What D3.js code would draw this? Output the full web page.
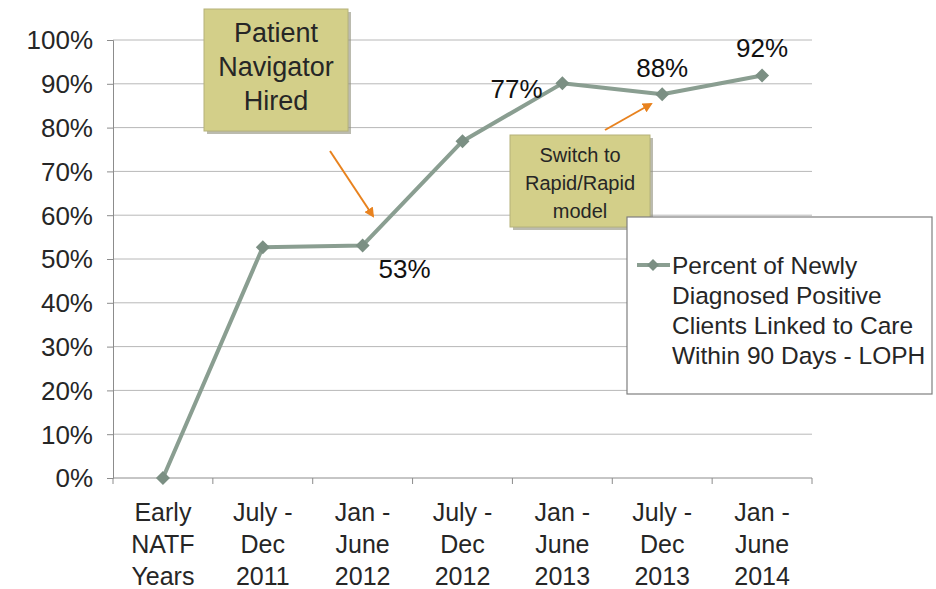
<!DOCTYPE html>
<html><head><meta charset="utf-8">
<script src="https://cdn.jsdelivr.net/npm/d3@7"></script>
<style>body{margin:0;background:#fff}svg{display:block;font-family:"Liberation Sans",Arial,sans-serif}</style>
</head><body><svg id="c" width="936" height="589"></svg>
<script>
const categories = [["Early","NATF","Years"],["July -","Dec","2011"],["Jan -","June","2012"],["July -","Dec","2012"],["Jan -","June","2013"],["July -","Dec","2013"],["Jan -","June","2014"]];
const values = [0, 52.7, 53.1, 76.9, 90.1, 87.6, 91.9];
const pointLabels = [null, null, "53%", "77%", null, "88%", "92%"];
const yTicks = [0,10,20,30,40,50,60,70,80,90,100];
const seriesName = ["Percent of Newly","Diagnosed Positive","Clients Linked to Care","Within 90 Days - LOPH"];

const svg = d3.select("#c");
const x = d3.scaleBand().domain(d3.range(categories.length)).range([113, 812]);
const y = d3.scaleLinear().domain([0,100]).range([478, 40]);

// gridlines
svg.append("g").selectAll("line").data(yTicks.filter(d=>d>0)).join("line")
  .attr("x1",113).attr("x2",812).attr("y1",d=>y(d)).attr("y2",d=>y(d))
  .attr("stroke","#b8b8b8").attr("stroke-width",1);

// y axis
const yAxis = svg.append("g").attr("transform","translate(113,0)")
  .call(d3.axisLeft(y).tickValues(yTicks).tickFormat(d=>d+"%").tickSize(6).tickPadding(14));
yAxis.select(".domain").attr("stroke","#8c8c8c");
yAxis.selectAll(".tick line").attr("stroke","#8c8c8c");
yAxis.selectAll("text").attr("font-size",26).attr("fill","#262626").attr("font-family","Liberation Sans, Arial, sans-serif").attr("dy","0.34em");

// x axis
const xg = svg.append("g").attr("transform","translate(0,478)");
xg.append("line").attr("x1",113).attr("x2",812).attr("stroke","#8c8c8c");
xg.selectAll("line.t").data(d3.range(categories.length+1)).join("line").attr("class","t")
  .attr("x1",i=>113+i*x.step()).attr("x2",i=>113+i*x.step()).attr("y1",0).attr("y2",6).attr("stroke","#8c8c8c");
const xl = xg.selectAll("text").data(categories).join("text")
  .attr("x",(d,i)=>x(i)+x.bandwidth()/2).attr("text-anchor","middle")
  .attr("font-size",25).attr("fill","#262626");
xl.selectAll("tspan").data(d=>d).join("tspan")
  .attr("x",function(){return this.parentNode.getAttribute("x");})
  .attr("y",(d,j)=>43+j*32).text(d=>d);

// line
const cx = i=>x(i)+x.bandwidth()/2;
const diamond = s => `M0,${-s}L${s},0L0,${s}L${-s},0Z`;
svg.append("path").datum(values)
  .attr("d", d3.line().x((d,i)=>cx(i)).y(d=>y(d)))
  .attr("fill","none").attr("stroke","#8a9e91").attr("stroke-width",4).attr("stroke-linejoin","round");
svg.append("g").selectAll("path").data(values).join("path")
  .attr("d", diamond(7))
  .attr("transform",(d,i)=>`translate(${cx(i)},${y(d)})`)
  .attr("fill","#7b8f83");

// point labels
const lblOff = {2:[42,24],3:[54,-52],5:[0,-26],6:[0,-27]};
svg.append("g").selectAll("text").data(values.map((v,i)=>({v,i})).filter(d=>pointLabels[d.i]))
  .join("text")
  .attr("x",d=>cx(d.i)+lblOff[d.i][0]).attr("y",d=>y(d.v)+lblOff[d.i][1]+9)
  .attr("text-anchor","middle").attr("font-size",26).attr("fill","#111")
  .text(d=>pointLabels[d.i]);

// arrows
const defs = svg.append("defs");
defs.append("marker").attr("id","ah").attr("viewBox","0 0 10 10").attr("refX",8).attr("refY",5)
  .attr("markerWidth",5).attr("markerHeight",5).attr("orient","auto")
  .append("path").attr("d","M0,0L10,5L0,10z").attr("fill","#e8821e");
svg.append("line").attr("x1",330).attr("y1",151).attr("x2",373).attr("y2",216)
  .attr("stroke","#e8821e").attr("stroke-width",2).attr("marker-end","url(#ah)");
svg.append("line").attr("x1",605).attr("y1",130).attr("x2",651).attr("y2",104)
  .attr("stroke","#e8821e").attr("stroke-width",2).attr("marker-end","url(#ah)");

// callout boxes
function box(x0,y0,w,h,lines,fs,lh,ty){
  svg.append("rect").attr("x",x0+3).attr("y",y0+3).attr("width",w).attr("height",h).attr("fill","#8e8e7a").attr("opacity",0.6);
  svg.append("rect").attr("x",x0).attr("y",y0).attr("width",w).attr("height",h).attr("fill","#d3cf89").attr("stroke","#b5b27a").attr("stroke-width",1);
  svg.append("text").attr("text-anchor","middle").attr("font-size",fs).attr("fill","#262626")
    .selectAll("tspan").data(lines).join("tspan").attr("x",x0+w/2).attr("y",(d,i)=>ty+i*lh).text(d=>d);
}
box(204,9,144,122,["Patient","Navigator","Hired"],27,34,42);
box(510,135,140,92,["Switch to","Rapid/Rapid","model"],20,28,162);

// legend
svg.append("rect").attr("x",627).attr("y",217).attr("width",305).attr("height",177)
  .attr("fill","#fff").attr("stroke","#7f7f7f").attr("stroke-width",1.2);
svg.append("line").attr("x1",637).attr("x2",670).attr("y1",265).attr("y2",265)
  .attr("stroke","#8a9e91").attr("stroke-width",4);
svg.append("path").attr("d",diamond(6)).attr("transform","translate(653,265)").attr("fill","#7b8f83");
svg.append("text").attr("font-size",24.5).attr("fill","#262626")
  .selectAll("tspan").data(seriesName).join("tspan").attr("x",672).attr("y",(d,i)=>274+i*30).text(d=>d);
</script></body></html>
